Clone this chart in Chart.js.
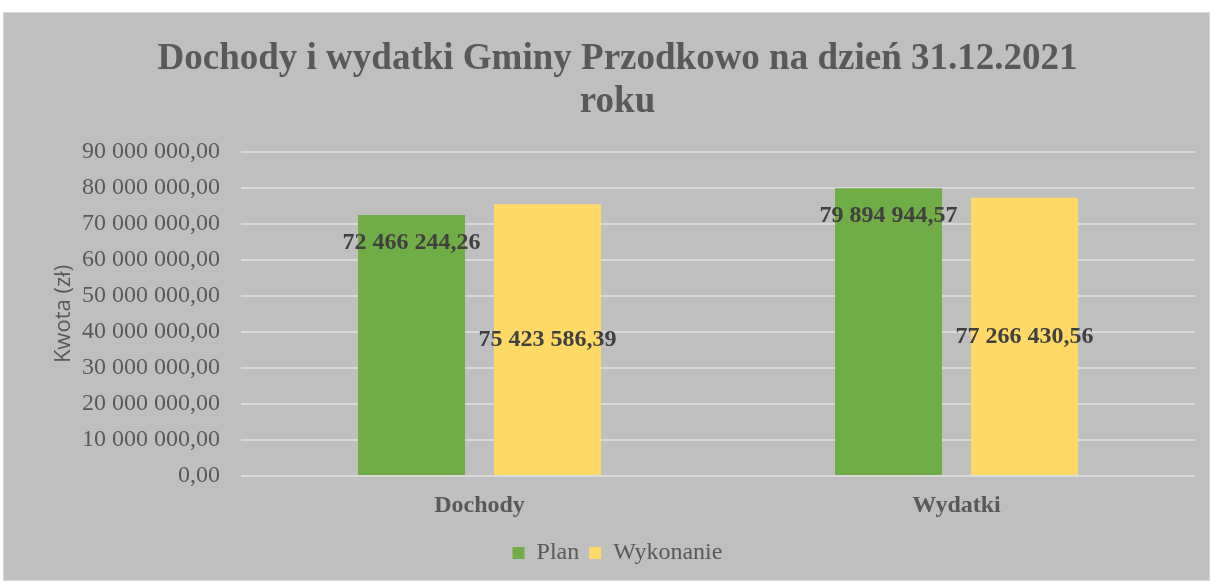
<!DOCTYPE html>
<html>
<head>
<meta charset="utf-8">
<style>
  html, body { margin: 0; padding: 0; background: #ffffff; }
  #wrap { width: 1210px; height: 581px; }
</style>
<script src="https://cdn.jsdelivr.net/npm/chart.js@4/dist/chart.umd.min.js"></script>
</head>
<body>
<div id="wrap"><canvas id="chart" width="1210" height="581"></canvas></div>
<script>
const categories = ['Dochody', 'Wydatki'];
const planValues = [72466244.26, 79894944.57];
const wykonanieValues = [75423586.39, 77266430.56];
const seriesNames = ['Plan', 'Wykonanie'];
const titleLines = ['Dochody i wydatki Gminy Przodkowo na dzień 31.12.2021', 'roku'];

const serif = '"Liberation Serif", "Times New Roman", serif';

// 72466244.26 -> "72 466 244,26"
const formatPl = (v) => {
    const parts = v.toFixed(2).split('.');
    const intPart = parts[0].replace(/\B(?=(\d{3})+(?!\d))/g, ' ');
    return intPart + ',' + parts[1];
};

const backgroundPlugin = {
    id: 'panelBg',
    beforeDraw(chart) {
        const c = chart.ctx;
        c.save();
        c.fillStyle = '#bfbfbf';
        c.fillRect(3, 12, chart.width - 3, chart.height - 12);
        c.strokeStyle = '#d9d9d9';
        c.lineWidth = 1;
        c.strokeRect(3.5, 12.5, chart.width - 4, chart.height - 13);
        c.restore();
    }
};

// value labels: Plan at inside end, Wykonanie centred
const labelPlugin = {
    id: 'barLabels',
    afterDatasetsDraw(chart) {
        const c = chart.ctx;
        c.save();
        c.font = 'bold 24px ' + serif;
        c.fillStyle = '#404040';
        c.textAlign = 'center';
        c.textBaseline = 'middle';
        chart.data.datasets.forEach((ds, di) => {
            chart.getDatasetMeta(di).data.forEach((bar, i) => {
                const p = bar.getProps(['x', 'y', 'base'], true);
                const y = di === 0 ? p.y + 28 : (p.y + p.base) / 2;
                c.fillText(formatPl(ds.data[i]), p.x, y);
            });
        });
        c.restore();
    }
};

new Chart(document.getElementById('chart'), {
    type: 'bar',
    data: {
        labels: categories,
        datasets: [
            { label: seriesNames[0], data: planValues, backgroundColor: '#70ad47' },
            { label: seriesNames[1], data: wykonanieValues, backgroundColor: '#ffd966' }
        ]
    },
    options: {
        responsive: false,
        animation: false,
        categoryPercentage: 0.57,
        barPercentage: 0.787,
        layout: { padding: { top: 12, left: 40, right: 15, bottom: 6 } },
        plugins: {
            title: {
                display: true,
                text: titleLines,
                color: '#595959',
                font: { family: serif, size: 37, weight: 'bold', lineHeight: 1.16 },
                padding: { top: 26, bottom: 28 }
            },
            legend: {
                position: 'bottom',
                labels: {
                    color: '#595959',
                    font: { family: serif, size: 24 },
                    boxWidth: 12,
                    boxHeight: 12,
                    padding: 10
                }
            },
            tooltip: { enabled: false }
        },
        scales: {
            x: {
                afterFit(scale) { scale.height = 55; },
                grid: { display: false },
                border: { display: false },
                ticks: {
                    color: '#595959',
                    font: { family: serif, size: 24, weight: 'bold' },
                    padding: 7
                }
            },
            y: {
                min: 0,
                max: 90000000,
                afterFit(scale) { scale.width = 201; },
                grid: { color: '#d9d9d9', lineWidth: 2, drawTicks: false },
                border: { display: false },
                ticks: {
                    stepSize: 10000000,
                    color: '#595959',
                    font: { family: serif, size: 24 },
                    padding: 21,
                    callback: (v) => formatPl(v)
                },
                title: {
                    display: true,
                    text: 'Kwota (zł)',
                    color: '#595959',
                    font: { family: '"Open Sans", sans-serif', size: 22 },
                    padding: { top: 11, bottom: 0 }
                }
            }
        }
    },
    plugins: [backgroundPlugin, labelPlugin]
});
</script>
</body>
</html>
